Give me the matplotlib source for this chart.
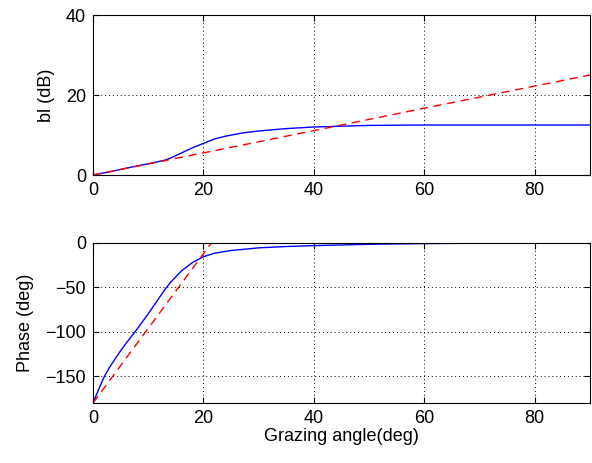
import matplotlib
matplotlib.use('Agg')
import matplotlib.pyplot as plt

plt.rcParams['font.family'] = ['Liberation Sans', 'DejaVu Sans']

# top panel: bl (dB)
bl_angle = [0, 3, 6, 10, 13, 14, 16, 18, 20, 22, 24, 27, 30, 35, 40, 45,
            50, 60, 70, 80, 90]
bl_blue = [0, 0.8, 1.7, 2.8, 3.7, 4.2, 5.5, 6.8, 7.9, 9.0, 9.7, 10.5, 11.0,
           11.6, 12.0, 12.2, 12.4, 12.5, 12.5, 12.5, 12.5]
bl_red_angle = [0, 30, 60, 90]
bl_red = [0, 8.3, 16.7, 25]

# bottom panel: phase (deg)
ph_angle = [0, 1, 2, 3, 4, 5, 6, 8, 10, 12, 13, 14, 16, 18, 20, 22, 25, 30,
            35, 40, 50, 60, 70, 80, 90]
ph_blue = [-180, -165, -151, -140, -130.5, -121.5, -113, -97, -80, -62,
           -53, -45, -32, -22.5, -16, -12, -9, -6, -4.5, -3.5, -2, -1.2,
           -0.8, -0.6, -0.5]
ph_red_angle = [0, 21.5]
ph_red = [-180, 0]

fig = plt.figure(figsize=(5.92, 4.63), dpi=100)
ax1 = fig.add_axes([93 / 592, 1 - 175 / 463, 497 / 592, 160 / 463])
ax2 = fig.add_axes([93 / 592, 1 - 403 / 463, 497 / 592, 160.5 / 463])

ax1.plot(bl_angle, bl_blue, color='b', lw=1)
ax1.plot(bl_red_angle, bl_red, color='r', lw=1, ls=(0, (6, 4)))
ax1.set_xlim(0, 90)
ax1.set_ylim(0, 40)
ax1.set_yticks([0, 20, 40])
ax1.set_ylabel('bl (dB)', fontsize=13, labelpad=8)

ax2.plot(ph_angle, ph_blue, color='b', lw=1)
ax2.plot(ph_red_angle, ph_red, color='r', lw=1, ls=(0, (6, 4)))
ax2.set_xlim(0, 90)
ax2.set_ylim(-180, 0)
ax2.set_yticks([-150, -100, -50, 0])
ax2.set_ylabel('Phase (deg)', fontsize=13, labelpad=8)
ax2.set_xlabel('Grazing angle(deg)', fontsize=13, labelpad=1)

for a in (ax1, ax2):
    a.set_xticks([0, 20, 40, 60, 80])
    a.grid(True, color='k', ls=(0, (1, 3)), lw=0.7)
    a.tick_params(direction='in', top=True, right=True, length=4,
                  labelsize=13, pad=5)
    for s in a.spines.values():
        s.set_linewidth(0.8)

fig.savefig('out.png', dpi=100)
